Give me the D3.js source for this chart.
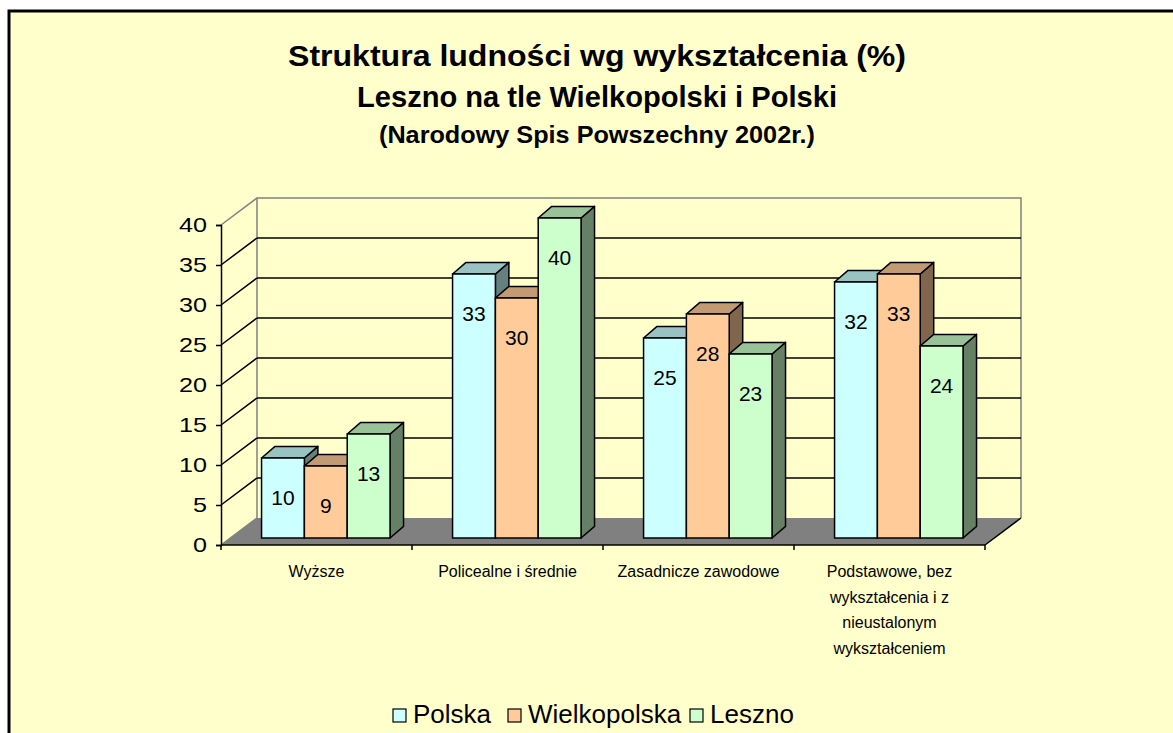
<!DOCTYPE html>
<html>
<head>
<meta charset="utf-8">
<script src="https://cdn.jsdelivr.net/npm/d3@7"></script>
<style>
  body { margin: 0; background: #fff; }
  svg { display: block; font-family: "Liberation Sans", Arial, sans-serif; }
</style>
</head>
<body>
<div id="chart"></div>
<script>
const categories = [
  ["Wyższe"],
  ["Policealne i średnie"],
  ["Zasadnicze zawodowe"],
  ["Podstawowe, bez", "wykształcenia i z", "nieustalonym", "wykształceniem"]
];
const seriesNames = ["Polska", "Wielkopolska", "Leszno"];
const polska = [10, 33, 25, 32];
const wielkopolska = [9, 30, 28, 33];
const leszno = [13, 40, 23, 24];
const yTicks = [0, 5, 10, 15, 20, 25, 30, 35, 40];
const titleLines = [
  "Struktura ludności wg wykształcenia (%)",
  "Leszno na tle Wielkopolski i Polski",
  "(Narodowy Spis Powszechny 2002r.)"
];

const colors = {
  Polska:       { front: "#ccffff", top: "#99c2c2", side: "#668080" },
  Wielkopolska: { front: "#ffcc99", top: "#c29b74", side: "#80664d" },
  Leszno:       { front: "#ccffcc", top: "#99c299", side: "#668066" }
};

drawChart();

function drawChart() {
  const width = 1173, height = 733;
  const values = [polska, wielkopolska, leszno];

  const svg = d3.select("#chart").append("svg")
    .attr("width", width)
    .attr("height", height);

  // chart area + frame
  svg.append("rect")
    .attr("x", 9).attr("y", 11)
    .attr("width", width + 20).attr("height", height + 20)
    .attr("fill", "#ffffcc")
    .attr("stroke", "#000")
    .attr("stroke-width", 3);

  // titles
  const titleY = [66, 107, 143];
  const titleSize = [30, 30, 24];
  const titleLen = [618, 480, 436];
  svg.selectAll("text.title")
    .data(titleLines).enter()
    .append("text")
    .attr("class", "title")
    .attr("x", 597)
    .attr("y", (d, i) => titleY[i])
    .attr("text-anchor", "middle")
    .attr("font-weight", "bold")
    .attr("font-size", (d, i) => titleSize[i])
    .attr("textLength", (d, i) => titleLen[i])
    .attr("lengthAdjust", "spacingAndGlyphs")
    .text(d => d);

  // 3d geometry
  const x0 = 221, x1 = 985;
  const wallDx = 36, wallDy = -27;
  const barPlaneDx = 9.3, barPlaneDy = -7;
  const depthDx = 13.5, depthDy = -11.6;

  const x = d3.scaleBand().domain(d3.range(categories.length)).range([x0, x1]);
  const xs = d3.scaleBand().domain(seriesNames).range([0, x.bandwidth()]).paddingOuter(0.73);
  const y = d3.scaleLinear().domain([0, 40]).range([545, 225]);

  const g = svg.append("g");

  // floor
  g.append("path")
    .attr("d", `M${x0},${y(0)} L${x1},${y(0)} L${x1 + wallDx},${y(0) + wallDy} L${x0 + wallDx},${y(0) + wallDy} Z`)
    .attr("fill", "#808080")
    .attr("stroke", "none");

  // back wall border
  g.append("path")
    .attr("d", `M${x0 + wallDx},${y(0) + wallDy} L${x0 + wallDx},${y(40) + wallDy} L${x1 + wallDx},${y(40) + wallDy} L${x1 + wallDx},${y(0) + wallDy}`)
    .attr("fill", "none")
    .attr("stroke", "#808080")
    .attr("stroke-width", 1.5);

  // back wall gridlines
  g.selectAll("line.grid")
    .data(yTicks.filter(t => t > 0 && t < 40)).enter()
    .append("line")
    .attr("x1", x0 + wallDx).attr("x2", x1 + wallDx)
    .attr("y1", d => y(d) + wallDy).attr("y2", d => y(d) + wallDy)
    .attr("stroke", "#000").attr("stroke-width", 1.5);

  // side wall diagonals
  g.selectAll("line.diag")
    .data(yTicks).enter()
    .append("line")
    .attr("x1", x0).attr("x2", x0 + wallDx)
    .attr("y1", d => y(d)).attr("y2", d => y(d) + wallDy)
    .attr("stroke", d => (d === 0 || d === 40) ? "#808080" : "#000")
    .attr("stroke-width", 1.5);

  // floor right edge
  g.append("line")
    .attr("x1", x1).attr("y1", y(0))
    .attr("x2", x1 + wallDx).attr("y2", y(0) + wallDy)
    .attr("stroke", "#000").attr("stroke-width", 1.5);

  // bars
  const bars = [];
  categories.forEach((c, ci) => {
    seriesNames.forEach((s, si) => {
      bars.push({ ci, s, v: values[si][ci] });
    });
  });

  const barG = g.selectAll("g.bar")
    .data(bars).enter()
    .append("g").attr("class", "bar");

  const bx = d => x(d.ci) + xs(d.s) + barPlaneDx;
  const by = v => y(v) + barPlaneDy;
  const bw = xs.bandwidth();

  barG.append("path")
    .attr("d", d => `M${bx(d) + bw},${by(0)} L${bx(d) + bw},${by(d.v)} L${bx(d) + bw + depthDx},${by(d.v) + depthDy} L${bx(d) + bw + depthDx},${by(0) + depthDy} Z`)
    .attr("fill", d => colors[d.s].side)
    .attr("stroke", "#000").attr("stroke-width", 1.5).attr("stroke-linejoin", "round");

  barG.append("path")
    .attr("d", d => `M${bx(d)},${by(d.v)} L${bx(d) + depthDx},${by(d.v) + depthDy} L${bx(d) + bw + depthDx},${by(d.v) + depthDy} L${bx(d) + bw},${by(d.v)} Z`)
    .attr("fill", d => colors[d.s].top)
    .attr("stroke", "#000").attr("stroke-width", 1.5).attr("stroke-linejoin", "round");

  barG.append("rect")
    .attr("x", d => bx(d))
    .attr("y", d => by(d.v))
    .attr("width", bw)
    .attr("height", d => by(0) - by(d.v))
    .attr("fill", d => colors[d.s].front)
    .attr("stroke", "#000").attr("stroke-width", 1.5);

  barG.append("text")
    .attr("x", d => bx(d) + bw / 2)
    .attr("y", d => by(d.v) + 47)
    .attr("text-anchor", "middle")
    .attr("font-size", 21)
    .text(d => d.v);

  // y axis
  const yAxis = svg.append("g")
    .attr("transform", `translate(${x0},0)`)
    .call(d3.axisLeft(y).tickValues(yTicks).tickSize(5).tickPadding(9));
  yAxis.selectAll("line, path").attr("stroke", "#000").attr("stroke-width", 1.5);
  yAxis.selectAll("text")
    .attr("font-size", 21)
    .attr("font-family", "Liberation Sans, Arial, sans-serif")
    .attr("fill", "#000")
    .attr("textLength", d => String(d).length * 14)
    .attr("lengthAdjust", "spacingAndGlyphs");

  // x axis
  const xAxis = svg.append("g")
    .attr("transform", `translate(0,${y(0)})`);
  xAxis.append("line")
    .attr("x1", x0).attr("x2", x1)
    .attr("stroke", "#000").attr("stroke-width", 1.5);
  xAxis.selectAll("line.tick")
    .data(d3.range(categories.length + 1)).enter()
    .append("line")
    .attr("x1", i => x0 + i * x.step()).attr("x2", i => x0 + i * x.step())
    .attr("y1", 0).attr("y2", 5)
    .attr("stroke", "#000").attr("stroke-width", 1.5);

  const catText = xAxis.selectAll("text.cat")
    .data(categories).enter()
    .append("text")
    .attr("text-anchor", "middle")
    .attr("font-size", 16)
    .attr("transform", (d, i) => `translate(${x(i) + x.bandwidth() / 2},0)`);
  catText.selectAll("tspan")
    .data(d => d).enter()
    .append("tspan")
    .attr("x", 0)
    .attr("y", (d, i) => 32 + i * 25.5)
    .text(d => d);

  // legend
  const legend = svg.append("g").attr("transform", "translate(393,715)");
  const legendX = [0, 115, 297];
  const item = legend.selectAll("g").data(seriesNames).enter()
    .append("g").attr("transform", (d, i) => `translate(${legendX[i]},0)`);
  item.append("rect")
    .attr("x", 0).attr("y", -6).attr("width", 13).attr("height", 13)
    .attr("fill", d => colors[d].front)
    .attr("stroke", "#000").attr("stroke-width", 1.2);
  item.append("text")
    .attr("x", 20).attr("y", 8)
    .attr("font-size", 26)
    .text(d => d);
}
</script>
</body>
</html>
